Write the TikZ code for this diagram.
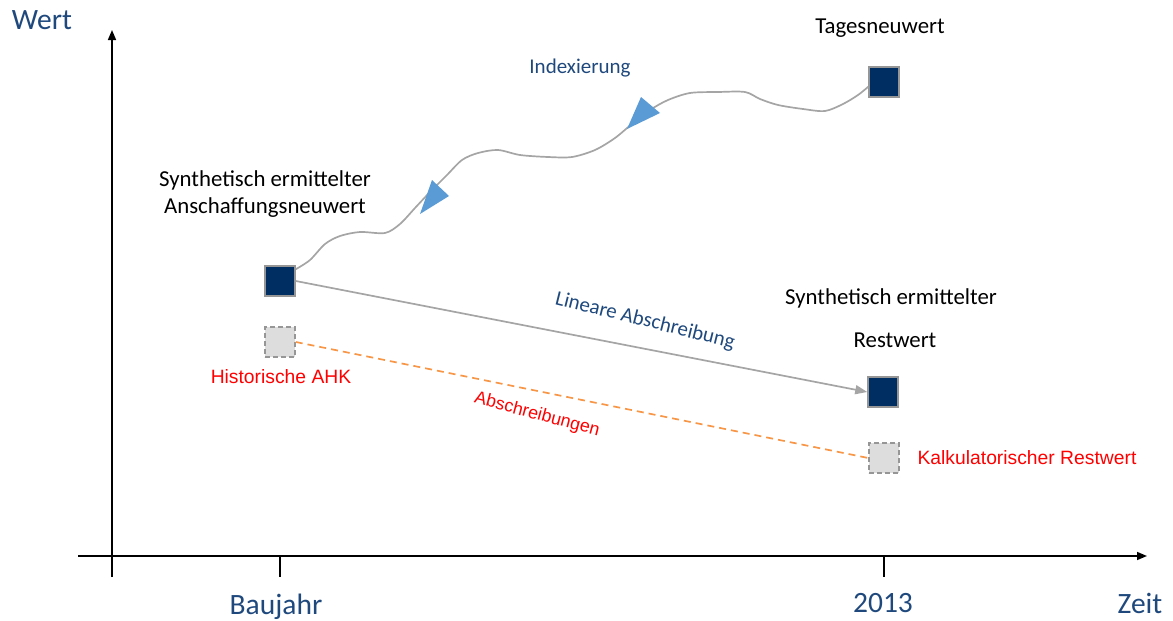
\documentclass[tikz,border=0pt]{standalone}
\usepackage{fontspec}
\setmainfont{Carlito}
\newfontfamily\arialfont{Liberation Sans}
\usetikzlibrary{arrows.meta}
\definecolor{axisblue}{RGB}{31,73,125}
\definecolor{navyfill}{RGB}{0,45,98}
\definecolor{framegray}{RGB}{150,150,150}
\definecolor{curvegray}{RGB}{165,165,165}
\definecolor{tipblue}{RGB}{91,155,213}
\definecolor{dashorange}{RGB}{247,150,70}
\definecolor{ghostfill}{RGB}{221,221,221}
\begin{document}
\begin{tikzpicture}[x=1pt,y=-1pt,
  axis/.style={line width=1.6pt, -{Triangle[length=10pt,width=8pt]}},
  tickline/.style={line width=1.2pt},
  axislabel/.style={text=axisblue, font=\fontsize{29.5}{34}\selectfont},
  valuebox/.style={draw=framegray, line width=1.5pt, fill=navyfill, minimum size=30pt, inner sep=0pt},
  ghostbox/.style={draw=framegray, dash pattern=on 5pt off 3pt, line width=1.5pt, fill=ghostfill, minimum size=30pt, inner sep=0pt},
  caption/.style={font=\fontsize{22.8}{26}\selectfont},
  bluenote/.style={text=axisblue, font=\fontsize{21}{25}\selectfont},
  rednote/.style={text=red, font=\arialfont\fontsize{19.3}{23}\selectfont},
  trend/.style={curvegray, line width=1.7pt},
]
\useasboundingbox (0,0) rectangle (1173,621);

% axes
\coordinate (ybot) at (112,577);
\coordinate (ytop) at (112,30);
\coordinate (xleft) at (78,556);
\coordinate (xright) at (1147,556);
\draw[axis] (ybot) -- (ytop);
\draw[axis] (xleft) -- (xright);
\draw[tickline] (280,556) -- (280,577);
\draw[tickline] (884,556) -- (884,577);

\node[axislabel] (wert) at (42,20) {Wert};
\node[axislabel] (baujahr) at (276,607) {Baujahr};
\node[axislabel] (jahr) at (883,603) {2013};
\node[axislabel] (zeit) at (1140,603) {Zeit};

% value markers
\node[valuebox] (anw) at (280,281) {};
\node[valuebox] (tnw) at (884,82) {};
\node[valuebox] (rw) at (883,392) {};
\node[ghostbox] (ahk) at (280,342) {};
\node[ghostbox] (krw) at (884,458) {};

% captions
\node[caption] (c1) at (265,180) {Synthetisch ermittelter};
\node[caption] (c2) at (265,208) {Anschaffungsneuwert};
\node[caption] (c3) at (880,28) {Tagesneuwert};
\node[caption] (c4) at (891,298) {Synthetisch ermittelter};
\node[caption] (c5) at (895,340) {Restwert};
\node[bluenote] (idx) at (580,68) {Indexierung};
\node[bluenote, rotate=-14] (lin) at (645,321) {Lineare Abschreibung};
\node[rednote] (hist) at (281,377) {Historische AHK};
\node[rednote] (kalk) at (1027,458) {Kalkulatorischer Restwert};
\node[rednote, font=\arialfont\fontsize{17.8}{21}\selectfont, rotate=-15] (abs) at (537,415) {Abschreibungen};

% linear depreciation
\draw[trend, -{Triangle[length=12pt,width=9pt]}] (anw.east) -- (rw.west);
% historical depreciation
\draw[dashorange, line width=1.7pt, dash pattern=on 7pt off 5pt] (ahk.east) -- (krw.west);

% indexation path
\draw[trend] plot[smooth, tension=0.5] coordinates {
  ([yshift=-4pt]anw.north east) (310,260) (325,244) (340,236) (360,232)
  (385,233) (400,224) (415,208) (430,192) (447,175) (462,160) (478,153)
  (498,150) (520,155) (548,157) (572,157) (595,150) (615,138) (633,123)
  (650,110) (668,100) (690,93) (718,92) (745,92) (760,99) (778,105)
  (803,109) (825,111) (843,104) (858,95) ([yshift=11pt]tnw.south west)};
\fill[tipblue] (432,180) -- (449,196) -- (420,214) -- cycle;
\fill[tipblue] (641,97) -- (660,113) -- (627,129) -- cycle;
\end{tikzpicture}
\end{document}
